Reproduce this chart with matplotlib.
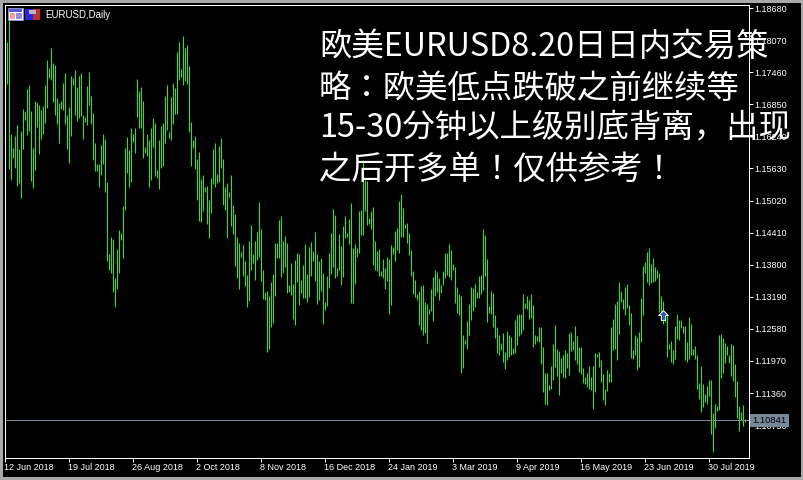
import matplotlib
matplotlib.use("Agg")
import matplotlib.pyplot as plt
from matplotlib.patches import Rectangle
from matplotlib.path import Path

# EURUSD daily bars
high = [
    1.1803, 1.1845, 1.1628, 1.1601, 1.1624, 1.1645, 1.1599, 1.1633, 1.1675, 1.1670,
    1.1713, 1.1721, 1.1671, 1.1601, 1.1690, 1.1689, 1.1683, 1.1673, 1.1681, 1.1721,
    1.1769, 1.1753, 1.1792, 1.1763, 1.1759, 1.1696, 1.1687, 1.1690, 1.1725, 1.1744,
    1.1664, 1.1679, 1.1738, 1.1734, 1.1750, 1.1717, 1.1738, 1.1744, 1.1664, 1.1660,
    1.1719, 1.1746, 1.1700, 1.1668, 1.1610, 1.1570, 1.1570, 1.1607, 1.1628, 1.1618,
    1.1536, 1.1399, 1.1431, 1.1427, 1.1353, 1.1408, 1.1445, 1.1439, 1.1490, 1.1601,
    1.1622, 1.1597, 1.1639, 1.1628, 1.1639, 1.1732, 1.1710, 1.1717, 1.1690, 1.1603,
    1.1628, 1.1616, 1.1639, 1.1658, 1.1649, 1.1559, 1.1616, 1.1643, 1.1649, 1.1700,
    1.1721, 1.1631, 1.1698, 1.1725, 1.1715, 1.1784, 1.1803, 1.1751, 1.1814, 1.1792,
    1.1797, 1.1757, 1.1650, 1.1616, 1.1624, 1.1580, 1.1593, 1.1542, 1.1549, 1.1527,
    1.1528, 1.1502, 1.1544, 1.1599, 1.1610, 1.1551, 1.1605, 1.1620, 1.1580, 1.1527,
    1.1534, 1.1517, 1.1549, 1.1492, 1.1475, 1.1431, 1.1420, 1.1403, 1.1416, 1.1385,
    1.1359, 1.1424, 1.1454, 1.1399, 1.1424, 1.1441, 1.1498, 1.1446, 1.1368, 1.1326,
    1.1328, 1.1319, 1.1346, 1.1361, 1.1420, 1.1420, 1.1464, 1.1471, 1.1424, 1.1433,
    1.1420, 1.1340, 1.1382, 1.1342, 1.1387, 1.1401, 1.1399, 1.1349, 1.1378, 1.1418,
    1.1361, 1.1412, 1.1422, 1.1405, 1.1441, 1.1399, 1.1386, 1.1391, 1.1363, 1.1307,
    1.1357, 1.1401, 1.1439, 1.1485, 1.1473, 1.1372, 1.1437, 1.1414, 1.1452, 1.1471,
    1.1439, 1.1466, 1.1496, 1.1410, 1.1418, 1.1410, 1.1481, 1.1483, 1.1578, 1.1540,
    1.1538, 1.1468, 1.1481, 1.1488, 1.1424, 1.1405, 1.1408, 1.1366, 1.1389, 1.1372,
    1.1393, 1.1389, 1.1416, 1.1412, 1.1443, 1.1448, 1.1500, 1.1513, 1.1487, 1.1456,
    1.1458, 1.1439, 1.1407, 1.1366, 1.1349, 1.1323, 1.1328, 1.1338, 1.1340, 1.1307,
    1.1304, 1.1294, 1.1332, 1.1355, 1.1368, 1.1365, 1.1353, 1.1340, 1.1366, 1.1401,
    1.1401, 1.1418, 1.1407, 1.1380, 1.1374, 1.1336, 1.1323, 1.1319, 1.1244, 1.1235,
    1.1271, 1.1304, 1.1336, 1.1334, 1.1342, 1.1326, 1.1357, 1.1359, 1.1447, 1.1435,
    1.1389, 1.1300, 1.1328, 1.1325, 1.1283, 1.1260, 1.1244, 1.1229, 1.1248, 1.1212,
    1.1252, 1.1244, 1.1241, 1.1220, 1.1273, 1.1283, 1.1285, 1.1285, 1.1323, 1.1305,
    1.1319, 1.1311, 1.1323, 1.1302, 1.1244, 1.1243, 1.1260, 1.1260, 1.1222, 1.1172,
    1.1172, 1.1150, 1.1186, 1.1228, 1.1264, 1.1218, 1.1214, 1.1201, 1.1207, 1.1216,
    1.1211, 1.1249, 1.1251, 1.1233, 1.1262, 1.1243, 1.1222, 1.1222, 1.1182, 1.1165,
    1.1172, 1.1186, 1.1165, 1.1186, 1.1211, 1.1209, 1.1213, 1.1197, 1.1171, 1.1142,
    1.1178, 1.1172, 1.1260, 1.1275, 1.1304, 1.1310, 1.1346, 1.1329, 1.1314, 1.1336,
    1.1342, 1.1302, 1.1287, 1.1216, 1.1245, 1.1241, 1.1251, 1.1315, 1.1376, 1.1384,
    1.1403, 1.1411, 1.1380, 1.1392, 1.1375, 1.1369, 1.1363, 1.1319, 1.1310, 1.1285,
    1.1283, 1.1228, 1.1233, 1.1216, 1.1262, 1.1285, 1.1274, 1.1274, 1.1262, 1.1262,
    1.1232, 1.1279, 1.1266, 1.1218, 1.1224, 1.1207, 1.1153, 1.1186, 1.1152, 1.1132,
    1.1148, 1.1159, 1.1159, 1.1096, 1.1113, 1.1110, 1.1245, 1.1247, 1.1239, 1.1230,
    1.1224, 1.1207, 1.1228, 1.1226, 1.1190, 1.1157, 1.1110, 1.1098, 1.1111, 1.1085,
]
low = [
    1.1723, 1.1561, 1.1540, 1.1582, 1.1563, 1.1528, 1.1534, 1.1506, 1.1599, 1.1654,
    1.1626, 1.1633, 1.1538, 1.1525, 1.1559, 1.1641, 1.1589, 1.1618, 1.1628, 1.1649,
    1.1677, 1.1734, 1.1731, 1.1689, 1.1664, 1.1647, 1.1610, 1.1675, 1.1673, 1.1647,
    1.1599, 1.1572, 1.1624, 1.1721, 1.1664, 1.1652, 1.1658, 1.1662, 1.1618, 1.1650,
    1.1645, 1.1683, 1.1647, 1.1578, 1.1557, 1.1557, 1.1527, 1.1549, 1.1570, 1.1517,
    1.1386, 1.1368, 1.1362, 1.1327, 1.1298, 1.1332, 1.1363, 1.1426, 1.1392, 1.1483,
    1.1553, 1.1527, 1.1536, 1.1612, 1.1591, 1.1660, 1.1639, 1.1639, 1.1582, 1.1591,
    1.1586, 1.1527, 1.1540, 1.1603, 1.1548, 1.1544, 1.1523, 1.1563, 1.1567, 1.1610,
    1.1635, 1.1620, 1.1616, 1.1647, 1.1666, 1.1666, 1.1731, 1.1736, 1.1721, 1.1729,
    1.1723, 1.1631, 1.1567, 1.1601, 1.1561, 1.1502, 1.1462, 1.1460, 1.1481, 1.1517,
    1.1456, 1.1429, 1.1477, 1.1532, 1.1527, 1.1534, 1.1536, 1.1563, 1.1492, 1.1483,
    1.1429, 1.1507, 1.1452, 1.1437, 1.1376, 1.1354, 1.1332, 1.1394, 1.1357, 1.1338,
    1.1298, 1.1309, 1.1368, 1.1382, 1.1349, 1.1387, 1.1393, 1.1347, 1.1313, 1.1311,
    1.1212, 1.1218, 1.1260, 1.1267, 1.1319, 1.1391, 1.1391, 1.1355, 1.1363, 1.1374,
    1.1325, 1.1326, 1.1321, 1.1275, 1.1264, 1.1346, 1.1302, 1.1325, 1.1315, 1.1315,
    1.1307, 1.1317, 1.1357, 1.1386, 1.1347, 1.1304, 1.1311, 1.1328, 1.1265, 1.1292,
    1.1300, 1.1334, 1.1361, 1.1374, 1.1353, 1.1357, 1.1368, 1.1340, 1.1355, 1.1429,
    1.1431, 1.1418, 1.1305, 1.1305, 1.1342, 1.1393, 1.1401, 1.1435, 1.1435, 1.1481,
    1.1454, 1.1456, 1.1447, 1.1378, 1.1368, 1.1366, 1.1357, 1.1357, 1.1353, 1.1332,
    1.1347, 1.1285, 1.1302, 1.1399, 1.1386, 1.1407, 1.1401, 1.1431, 1.1431, 1.1448,
    1.1420, 1.1397, 1.1357, 1.1323, 1.1317, 1.1311, 1.1264, 1.1254, 1.1244, 1.1248,
    1.1229, 1.1285, 1.1290, 1.1271, 1.1319, 1.1326, 1.1311, 1.1325, 1.1340, 1.1353,
    1.1359, 1.1355, 1.1349, 1.1368, 1.1305, 1.1286, 1.1283, 1.1172, 1.1182, 1.1227,
    1.1218, 1.1244, 1.1273, 1.1290, 1.1298, 1.1315, 1.1315, 1.1323, 1.1330, 1.1357,
    1.1269, 1.1286, 1.1285, 1.1260, 1.1239, 1.1210, 1.1206, 1.1216, 1.1193, 1.1180,
    1.1197, 1.1203, 1.1206, 1.1208, 1.1210, 1.1225, 1.1243, 1.1246, 1.1254, 1.1296,
    1.1294, 1.1275, 1.1277, 1.1222, 1.1227, 1.1233, 1.1231, 1.1190, 1.1136, 1.1113,
    1.1111, 1.1140, 1.1142, 1.1159, 1.1184, 1.1167, 1.1131, 1.1172, 1.1165, 1.1163,
    1.1182, 1.1169, 1.1214, 1.1216, 1.1197, 1.1190, 1.1174, 1.1171, 1.1153, 1.1152,
    1.1146, 1.1142, 1.1140, 1.1104, 1.1136, 1.1203, 1.1184, 1.1155, 1.1121, 1.1111,
    1.1138, 1.1155, 1.1155, 1.1216, 1.1218, 1.1197, 1.1247, 1.1308, 1.1294, 1.1283,
    1.1296, 1.1264, 1.1201, 1.1199, 1.1207, 1.1178, 1.1184, 1.1232, 1.1283, 1.1363,
    1.1346, 1.1340, 1.1344, 1.1346, 1.1348, 1.1354, 1.1289, 1.1279, 1.1266, 1.1270,
    1.1203, 1.1218, 1.1193, 1.1190, 1.1199, 1.1237, 1.1235, 1.1258, 1.1249, 1.1197,
    1.1193, 1.1199, 1.1207, 1.1207, 1.1199, 1.1142, 1.1123, 1.1098, 1.1108, 1.1117,
    1.1113, 1.1129, 1.1056, 1.1022, 1.1068, 1.1100, 1.1102, 1.1163, 1.1172, 1.1192,
    1.1207, 1.1192, 1.1167, 1.1157, 1.1127, 1.1087, 1.1062, 1.1083, 1.1071, 1.1079,
]

price_ticks = [1.18680, 1.18070, 1.17460, 1.16850, 1.16240, 1.15630, 1.15020,
               1.14410, 1.13800, 1.13190, 1.12580, 1.11970, 1.11360, 1.10750]
date_labels = ["12 Jun 2018", "19 Jul 2018", "26 Aug 2018", "2 Oct 2018",
               "8 Nov 2018", "16 Dec 2018", "24 Jan 2019", "3 Mar 2019",
               "9 Apr 2019", "16 May 2019", "23 Jun 2019", "30 Jul 2019"]
bid = 1.10841
arrow_bar = 328
arrow_price = 1.1283
title_lines = ["欧美EURUSD8.20日日内交易策",
               "略：欧美低点跌破之前继续等",
               "15-30分钟以上级别底背离，出现",
               "之后开多单！仅供参考！"]

# 803.5 so that the saved png comes out 803 wide, not 802
W, H = 803.5, 480
WHITE = "#ffffff"
GREY = "#778899"
fig = plt.figure(figsize=(W / 100, H / 100), dpi=100, facecolor="black")

# plot area, positions taken in screen pixels
left, right, top, bottom = 4.5, 748.5, 4.5, 457.5
ax = fig.add_axes([left / W, 1 - bottom / H, (right - left) / W, (bottom - top) / H])
ax.set_facecolor("black")
ax.set_xlim((left - 6.5) / 2, (right - 6.5) / 2)
ax.set_ylim(1.18833 - bottom * 0.000190625, 1.18833 - top * 0.000190625)

# the bars were read on a slightly different scale, nudge the ruler onto them
def ruler(p):
    return p - 0.00019 * (1.1868 - p) / 0.0732

for i in range(len(high)):
    ax.plot([i, i], [low[i], high[i]], color="#00ff00", linewidth=0.72, solid_capstyle="butt",
            snap=True)
ax.axhline(ruler(bid), color=GREY, linewidth=0.72, snap=True)

# little up arrow on the order
arrow = Path([(0, 1), (1, 0), (0.45, 0), (0.45, -1), (-0.45, -1), (-0.45, 0), (-1, 0), (0, 1)])
ax.plot([arrow_bar], [arrow_price], marker=arrow, markersize=7, markerfacecolor="#1f5fa8",
        markeredgecolor=WHITE, markeredgewidth=0.7, linestyle="none", zorder=5)

for side in ["left", "right", "top", "bottom"]:
    ax.spines[side].set_color(WHITE)
    ax.spines[side].set_linewidth(0.72)

ax.yaxis.tick_right()
ax.set_yticks([ruler(p) for p in price_ticks])
ax.set_yticklabels(["%.5f" % p for p in price_ticks], family="Liberation Sans",
                   fontsize=6.5, color=WHITE)
ax.set_xticks([32 * k - 1 for k in range(len(date_labels))])
ax.set_xticklabels(date_labels, family="Liberation Sans", fontsize=6.5, color=WHITE, ha="left")
ax.tick_params(axis="both", color=WHITE, width=0.72, length=3)
ax.tick_params(axis="y", pad=1.5)
ax.tick_params(axis="x", pad=1)

ax.text(1.0055, ruler(bid), "%.5f" % bid, transform=ax.get_yaxis_transform(),
        family="Liberation Sans", fontsize=6.8, color="black", va="center", ha="left",
        bbox=dict(facecolor=GREY, edgecolor="none", pad=1.6), zorder=6)

# chrome in pixel coordinates
px = fig.add_axes([0, 0, 1, 1], facecolor="none")
px.set_xlim(0, W)
px.set_ylim(H, 0)
px.axis("off")
for box in [(0, 0, W, 2.5), (0, 0, 2.5, H), (0, 477, W, 3), (801, 0, 3, H)]:
    px.add_patch(Rectangle(box[:2], box[2], box[3], facecolor="#a8a8a8", edgecolor="none"))

# window and floppy icons next to the symbol name
px.add_patch(Rectangle((8, 8), 15, 12, facecolor=WHITE, edgecolor="#8a8ac8", linewidth=0.7))
px.add_patch(Rectangle((9, 9), 13, 2.5, facecolor="#5a5ad0", edgecolor="none"))
px.add_patch(Rectangle((9.5, 12.5), 5.5, 6, facecolor="#f0a090", edgecolor="none"))
px.add_patch(Rectangle((16, 12.5), 5.5, 6, facecolor="#9090e0", edgecolor="none"))
px.add_patch(Rectangle((25, 9), 7.5, 11, facecolor="#2828d8", edgecolor="none"))
px.add_patch(Rectangle((32.5, 9), 7.5, 11, facecolor="#c03030", edgecolor="none"))
px.add_patch(Rectangle((29, 9.5), 7, 4, facecolor="#b8b8b8", edgecolor="none"))
px.text(45.5, 14.5, "EURUSD,Daily", family="Liberation Sans", fontsize=7, color=WHITE,
        va="center", ha="left")

# commentary typed over the chart
for text, y in zip(title_lines, [47, 89, 128, 170]):
    px.text(319, y, text, family=["Noto Sans CJK JP", "DejaVu Sans"], fontsize=23.3,
            color=WHITE, va="center", ha="left", zorder=8)

fig.savefig("out.png", dpi=100, facecolor="black")
